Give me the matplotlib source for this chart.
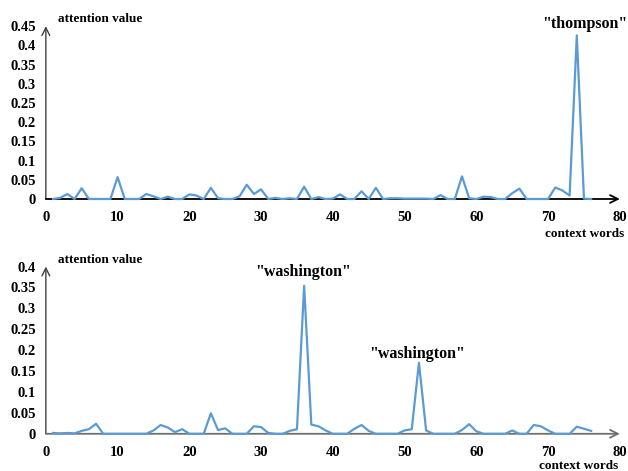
import numpy as np
import matplotlib.pyplot as plt

plt.rcParams['font.family'] = 'Liberation Serif'
plt.rcParams['font.weight'] = 'bold'

# context word positions
words = list(range(1, 77))

# attention weights, top sentence ("thompson")
att_top = [0, 0.003, 0.013, 0, 0.028, 0, 0, 0, 0, 0.057,
           0, 0, 0, 0.013, 0.007, 0, 0.006, 0, 0, 0.012,
           0.009, 0, 0.029, 0.002, 0, 0, 0.007, 0.037, 0.013, 0.025,
           0, 0.003, 0, 0.002, 0, 0.032, 0, 0.005, 0, 0.001,
           0.012, 0, 0, 0.02, 0, 0.029, 0, 0.002, 0.002, 0.001,
           0.001, 0.001, 0.001, 0, 0.01, 0, 0, 0.059, 0.002, 0,
           0.006, 0.005, 0, 0, 0.015, 0.027, 0, 0, 0, 0,
           0.03, 0.022, 0.009, 0.426, 0.001, 0]

# attention weights, bottom sentence ("washington")
att_bot = [0.002, 0.001, 0.002, 0.001, 0.007, 0.011, 0.024, 0, 0, 0,
           0, 0, 0, 0, 0.008, 0.021, 0.015, 0.004, 0.011, 0,
           0, 0, 0.049, 0.009, 0.013, 0, 0, 0, 0.018, 0.016,
           0.002, 0, 0, 0.007, 0.011, 0.354, 0.022, 0.018, 0.008, 0,
           0, 0, 0.012, 0.021, 0.007, 0, 0, 0, 0, 0.008,
           0.011, 0.17, 0.008, 0, 0, 0, 0, 0.009, 0.023, 0.006,
           0, 0, 0, 0, 0.008, 0, 0, 0.021, 0.018, 0.008,
           0, 0, 0, 0.017, 0.012, 0.007]

xticks = [0, 10, 20, 30, 40, 50, 60, 70, 80]
yticks_top = [0, 0.05, 0.1, 0.15, 0.2, 0.25, 0.3, 0.35, 0.4, 0.45]
ylabels_top = ['0', '0.05', '0.1', '0.15', '0.2', '0.25', '0.3', '0.35', '0.4', '0.45']
yticks_bot = [0, 0.05, 0.1, 0.15, 0.2, 0.25, 0.3, 0.35, 0.4]
ylabels_bot = ['0', '0.05', '0.1', '0.15', '0.2', '0.25', '0.3', '0.35', '0.4']

line_color = '#5B9BD5'

fig = plt.figure(figsize=(6.28, 4.71), dpi=100)
ax1 = fig.add_axes([0.073, 0.5775, 0.914, 0.367])
ax2 = fig.add_axes([0.073, 0.079, 0.914, 0.355])


def style_axis(ax, yticks, ylabels, ymax, xcol):
    ax.set_xlim(0, 80)
    ax.set_ylim(0, ymax)
    ax.set_xticks(xticks)
    ax.set_xticklabels([str(t) for t in xticks])
    ax.set_yticks(yticks)
    ax.set_yticklabels(ylabels)
    ax.tick_params(axis='x', length=0, labelsize=10.5, pad=9)
    ax.tick_params(axis='y', length=0, labelsize=10.5, pad=7)
    for s in ['top', 'right', 'left', 'bottom']:
        ax.spines[s].set_visible(False)
    # axis lines with open arrow heads
    ax.annotate('', xy=(0, 1), xytext=(0, 0), xycoords='axes fraction',
                arrowprops=dict(arrowstyle='->', color='#404040', lw=1.0,
                                mutation_scale=14, shrinkA=0, shrinkB=0))
    ax.annotate('', xy=(1.0, 0), xytext=(0, 0), xycoords='axes fraction',
                arrowprops=dict(arrowstyle='->', color=xcol, lw=1.3,
                                mutation_scale=14, shrinkA=0, shrinkB=0))
    ax.patch.set_visible(False)


style_axis(ax1, yticks_top, ylabels_top, 0.45, 'black')
ax1.plot(words, att_top, color=line_color, lw=1.6, clip_on=False, zorder=3)
ax1.text(0.021, 1.04, 'attention value', transform=ax1.transAxes,
         fontsize=9.5, fontweight='bold', va='center', ha='left')
ax1.text(1.007, -0.2, 'context words', transform=ax1.transAxes,
         fontsize=9.5, fontweight='bold', va='center', ha='right')
ax1.text(75.1, 0.455, '"thompson"', fontsize=11.5, fontweight='bold',
         ha='center', va='center')

style_axis(ax2, yticks_bot, ylabels_bot, 0.4, '#707070')
ax2.plot(words, att_bot, color=line_color, lw=1.6, clip_on=False, zorder=3)
ax2.text(0.021, 1.04, 'attention value', transform=ax2.transAxes,
         fontsize=9.5, fontweight='bold', va='center', ha='left')
ax2.text(0.998, -0.195, 'context words', transform=ax2.transAxes,
         fontsize=9.5, fontweight='bold', va='center', ha='right')
ax2.text(35.8, 0.387, '"washington"', fontsize=11.5, fontweight='bold',
         ha='center', va='center')
ax2.text(51.7, 0.191, '"washington"', fontsize=11.5, fontweight='bold',
         ha='center', va='center')

fig.savefig('out.png', dpi=100)
